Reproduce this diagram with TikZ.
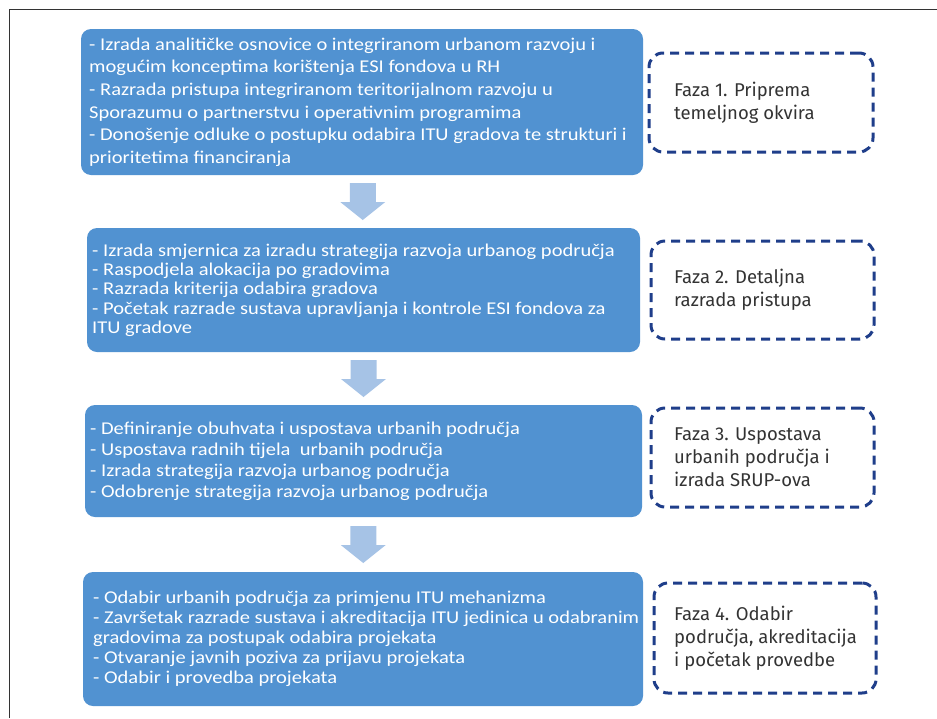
\documentclass[tikz,border=0pt]{standalone}
\usepackage{fontspec}
\setmainfont{Carlito}
\newfontfamily\boxfont[FakeStretch=1.14]{Carlito}
\newfontfamily\fazafont{Fira Sans}
\usetikzlibrary{calc}
\definecolor{boxblue}{HTML}{5192D1}
\definecolor{arrowfill}{HTML}{A6C3E6}
\definecolor{dashblue}{HTML}{1F3E8A}
\definecolor{fazagray}{HTML}{333333}
\definecolor{framegray}{HTML}{333333}
\tikzset{
  bluebox/.style={fill=boxblue, draw=none, rounded corners=10pt, inner sep=0pt, outer sep=0pt, anchor=north west},
  boxtext/.style={text=white, align=left, inner sep=0pt, anchor=west},
  fazabox/.style={draw=dashblue, line width=3pt, dash pattern=on 9pt off 6pt, rounded corners=14pt, inner sep=0pt, outer sep=0pt, anchor=north west},
  fazatext/.style={text=fazagray, align=left, inner sep=0pt, anchor=west, font=\fazafont\fontsize{18.5}{23}\selectfont},
  blockarrow/.pic={\fill[arrowfill] (-13,-18.5) -- (13,-18.5) -- (13,0.5) -- (22.5,0.5) -- (0,18.5) -- (-22.5,0.5) -- (-13,0.5) -- cycle;}
}
\begin{document}
\begin{tikzpicture}[x=1pt,y=-1pt]
\useasboundingbox (0,0) rectangle (937,718);
% frame
\draw[framegray, line width=1pt] (9,718) -- (9,9) -- (937,9);

% blue boxes
\node[bluebox, minimum width=562pt, minimum height=146pt] (b1) at (81,29) {};
\node[bluebox, minimum width=553pt, minimum height=124pt] (b2) at (87,228) {};
\node[bluebox, minimum width=557pt, minimum height=112pt] (b3) at (85,405) {};
\node[bluebox, minimum width=560pt, minimum height=134pt] (b4) at (83,572) {};

\node[boxtext, font=\boxfont\fontsize{18}{22.6}\selectfont] (t1) at ([xshift=8pt]b1.west) {- Izrada analitičke osnovice o integriranom urbanom razvoju i\\mogućim konceptima korištenja ESI fondova u RH\\- Razrada pristupa integriranom teritorijalnom razvoju u\\Sporazumu o partnerstvu i operativnim programima\\- Donošenje odluke o postupku odabira ITU gradova te strukturi i\\prioritetima financiranja};
\node[boxtext, font=\boxfont\fontsize{18}{19.3}\selectfont] (t2) at ([xshift=5pt]b2.west) {- Izrada smjernica za izradu strategija razvoja urbanog područja\\- Raspodjela alokacija po gradovima\\- Razrada kriterija odabira gradova\\- Početak razrade sustava upravljanja i kontrole ESI fondova za\\ITU gradove};
\node[boxtext, font=\boxfont\fontsize{18}{21}\selectfont] (t3) at ([xshift=5pt]b3.west) {- Definiranje obuhvata i uspostava urbanih područja\\- Uspostava radnih tijela\ \ urbanih područja\\- Izrada strategija razvoja urbanog područja\\- Odobrenje strategija razvoja urbanog područja};
\node[boxtext, font=\boxfont\fontsize{18}{20}\selectfont] (t4) at ([xshift=10pt]b4.west) {- Odabir urbanih područja za primjenu ITU mehanizma\\- Završetak razrade sustava i akreditacija ITU jedinica u odabranim\\gradovima za postupak odabira projekata\\- Otvaranje javnih poziva za prijavu projekata\\- Odabir i provedba projekata};

% block arrows between boxes
\pic at ($(b1.south)!0.5!(b2.north)$) {blockarrow};
\pic at ($(b2.south)!0.5!(b3.north)$) {blockarrow};
\pic at ($(b3.south)!0.5!(b4.north)$) {blockarrow};

% phase boxes
\node[fazabox, minimum width=224pt, minimum height=99pt] (f1) at (649,53) {};
\node[fazabox, minimum width=223pt, minimum height=98pt] (f2) at (651,241) {};
\node[fazabox, minimum width=223pt, minimum height=99pt] (f3) at (651,408) {};
\node[fazabox, minimum width=222pt, minimum height=110pt] (f4) at (654,583) {};

\node[fazatext] (p1) at ([xshift=25pt]f1.west) {Faza 1. Priprema\\temeljnog okvira};
\node[fazatext] (p2) at ([xshift=23pt]f2.west) {Faza 2. Detaljna\\razrada pristupa};
\node[fazatext] (p3) at ([xshift=23pt]f3.west) {Faza 3. Uspostava\\urbanih područja i\\izrada SRUP-ova};
\node[fazatext] (p4) at ([xshift=20pt]f4.west) {Faza 4. Odabir\\područja, akreditacija\\i početak provedbe};
\end{tikzpicture}
\end{document}
